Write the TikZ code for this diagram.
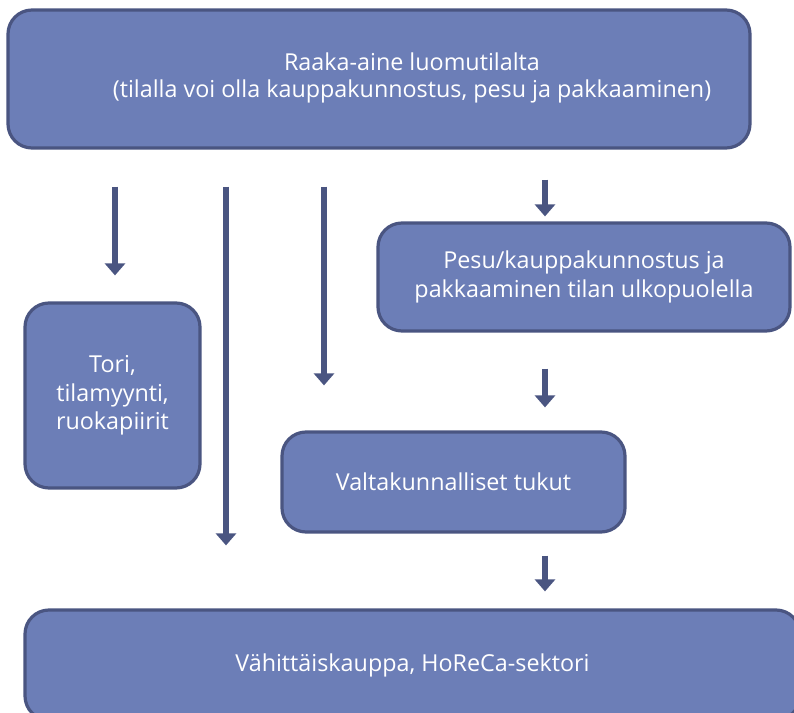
\documentclass[tikz,border=0pt]{standalone}
\usepackage{fontspec}
\setmainfont{Open Sans}
\usetikzlibrary{arrows.meta}

\definecolor{boxfill}{HTML}{6C7EB7}
\definecolor{boxline}{HTML}{4A5581}

\tikzset{
  stage/.style={draw=boxline, line width=2.4pt, fill=boxfill, rounded corners=18pt,
    inner sep=0pt, text=white, font=\fontsize{17.5}{21.5}\selectfont, align=center},
  stagetext/.style={text=white, font=\fontsize{17.5}{20}\selectfont, align=center},
  flow/.style={draw=boxline, line width=5pt, -{Triangle[width=15pt,length=9pt]}}
}

\begin{document}
\begin{tikzpicture}[x=0.75pt, y=-0.75pt]
\useasboundingbox (0,0) rectangle (794,713);
\clip (0,0) rectangle (794,713);

% boxes
\node[stage, minimum width=556.5pt, minimum height=103.5pt] (top) at (379,79) {};
\node[stagetext] (toptext) at (412,78) {Raaka-aine luomutilalta\\(tilalla voi olla kauppakunnostus, pesu ja pakkaaminen)};
\node[stage, minimum width=309pt, minimum height=81pt] (pesu) at (584,277) {Pesu/kauppakunnostus ja\\pakkaaminen tilan ulkopuolella};
\node[stage, minimum width=131.25pt, minimum height=138.75pt] (tori) at (112.5,395.5) {Tori,\\tilamyynti,\\ruokapiirit};
\node[stage, minimum width=257.25pt, minimum height=75pt] (valta) at (453.5,482) {Valtakunnalliset tukut};
\node[stage, minimum width=581.25pt, minimum height=82.5pt] (vahit) at (412.5,665) {Vähittäiskauppa, HoReCa-sektori};

% arrows
\draw[flow, shorten <=27.75pt, shorten >=19.5pt] (top.south -| 115,0) -- (tori.north -| 115,0);
\draw[flow, shorten <=27.75pt, shorten >=47.25pt] (top.south -| 226,0) -- (vahit.north -| 226,0);
\draw[flow, shorten <=27.75pt, shorten >=33.75pt] (top.south -| 324,0) -- (valta.north -| 324,0);
\draw[flow, shorten <=22.5pt, shorten >=3.75pt] (top.south -| 545,0) -- (pesu.north -| 545,0);
\draw[flow, shorten <=27pt, shorten >=17.25pt] (pesu.south -| 545,0) -- (valta.north -| 545,0);
\draw[flow, shorten <=16.5pt, shorten >=12.75pt] (valta.south -| 545,0) -- (vahit.north -| 545,0);
\end{tikzpicture}
\end{document}
